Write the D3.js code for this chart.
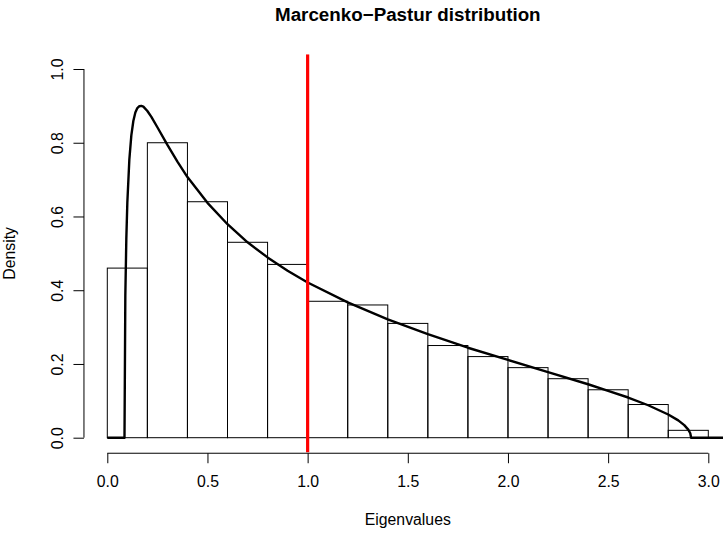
<!DOCTYPE html>
<html>
<head>
<meta charset="utf-8">
<script src="https://cdn.jsdelivr.net/npm/d3@7"></script>
<style>
  html, body { margin: 0; padding: 0; background: #fff; }
  svg { display: block; }
  text { font-family: "Liberation Sans", Arial, Helvetica, sans-serif; fill: #000; }
</style>
</head>
<body>
<svg id="chart" width="723" height="533"></svg>
<script>
// Histogram of eigenvalues: bin edges and densities
const binEdges = [0.0, 0.2, 0.4, 0.6, 0.8, 1.0, 1.2, 1.4, 1.6, 1.8, 2.0, 2.2, 2.4, 2.6, 2.8, 3.0];
const binDensity = [0.46, 0.80, 0.64, 0.53, 0.47, 0.37, 0.36, 0.31, 0.25, 0.22, 0.19, 0.16, 0.13, 0.09, 0.02];

// Theoretical density curve (Marcenko-Pastur), sampled points
const curveX = [0.0, 0.0858, 0.09, 0.095, 0.10, 0.11, 0.12, 0.13, 0.14, 0.15, 0.16, 0.17, 0.18, 0.20, 0.22, 0.25,
                0.30, 0.35, 0.40, 0.50, 0.60, 0.70, 0.80, 0.90, 1.00, 1.20, 1.40, 1.60, 1.80, 2.00, 2.20,
                2.40, 2.50, 2.60, 2.70, 2.80, 2.85, 2.88, 2.90, 2.91, 2.9142, 3.2];
const curveY = [0.0, 0.0, 0.386, 0.540, 0.637, 0.754, 0.820, 0.859, 0.882, 0.894, 0.899, 0.900, 0.898, 0.886, 0.870, 0.842,
                0.794, 0.749, 0.707, 0.637, 0.579, 0.530, 0.489, 0.453, 0.421, 0.367, 0.321, 0.281, 0.244, 0.211, 0.178,
                0.145, 0.127, 0.109, 0.088, 0.063, 0.047, 0.034, 0.022, 0.012, 0.0, 0.0];

// Vertical reference line position
const refLineX = [1.0];

const xTicks = [0.0, 0.5, 1.0, 1.5, 2.0, 2.5, 3.0];
const yTicks = [0.0, 0.2, 0.4, 0.6, 0.8, 1.0];

const titleText = "Marcenko\u2212Pastur distribution";
const xLabel = "Eigenvalues";
const yLabel = "Density";

// Plot region (data range padded by 4% on each side, as in base graphics)
const xDom = [0, 3], yDom = [0, 1];
const px0 = 107.3, px1 = 708.3;   // pixel positions of x = 0 and x = 3
const py0 = 437.7, py1 = 69.0;    // pixel positions of y = 0 and y = 1

const x = d3.scaleLinear().domain(xDom).range([px0, px1]);
const y = d3.scaleLinear().domain(yDom).range([py0, py1]);

const xPad = (xDom[1] - xDom[0]) * 0.04, yPad = (yDom[1] - yDom[0]) * 0.04;
const plotLeft = x(xDom[0] - xPad), plotRight = x(xDom[1] + xPad);
const plotTop = y(yDom[1] + yPad), plotBottom = y(yDom[0] - yPad);

const labelSize = "15.8px", titleSize = "18.8px";

const svg = d3.select("#chart");

svg.append("defs").append("clipPath").attr("id", "plotClip")
  .append("rect")
  .attr("x", plotLeft).attr("y", plotTop)
  .attr("width", plotRight - plotLeft).attr("height", plotBottom - plotTop);

const plot = svg.append("g").attr("clip-path", "url(#plotClip)");

// Histogram bars
plot.append("g").selectAll("rect")
  .data(binDensity)
  .join("rect")
  .attr("x", (d, i) => x(binEdges[i]))
  .attr("y", d => y(d))
  .attr("width", (d, i) => x(binEdges[i + 1]) - x(binEdges[i]))
  .attr("height", d => y(0) - y(d))
  .attr("fill", "none")
  .attr("stroke", "#000")
  .attr("stroke-width", 1);

// Density curve
const line = d3.line().x(d => x(d[0])).y(d => y(d[1]));
plot.append("path")
  .datum(curveX.map((v, i) => [v, curveY[i]]))
  .attr("d", line)
  .attr("fill", "none")
  .attr("stroke", "#000")
  .attr("stroke-width", 2.4)
  .attr("stroke-linejoin", "round");

// Vertical red line
plot.selectAll("line.ref")
  .data(refLineX)
  .join("line")
  .attr("class", "ref")
  .attr("x1", d => x(d)).attr("x2", d => x(d))
  .attr("y1", plotTop).attr("y2", plotBottom)
  .attr("stroke", "#ff0000")
  .attr("stroke-width", 3.2);

// X axis
const xAxis = d3.axisBottom(x).tickValues(xTicks).tickFormat(d3.format(".1f"))
  .tickSize(10).tickSizeOuter(0).tickPadding(13);
const gx = svg.append("g").attr("transform", `translate(0,${plotBottom + 0.8})`).call(xAxis);
gx.select(".domain").attr("d", `M${x(xTicks[0])},0H${x(xTicks[xTicks.length - 1])}`);
gx.selectAll("text").style("font-size", labelSize).attr("font-family", null);

// Y axis
const yAxis = d3.axisLeft(y).tickValues(yTicks).tickFormat(d3.format(".1f"))
  .tickSize(10.5).tickSizeOuter(0);
const gy = svg.append("g").attr("transform", `translate(${plotLeft + 0.7},0)`).call(yAxis);
gy.select(".domain").attr("d", `M0,${y(yTicks[0])}V${y(yTicks[yTicks.length - 1])}`);
gy.selectAll(".tick text")
  .attr("x", null).attr("dy", null)
  .attr("text-anchor", "middle")
  .attr("transform", "translate(-20.8,0) rotate(-90)")
  .style("font-size", labelSize);

svg.selectAll(".domain, .tick line").attr("stroke", "#000").attr("stroke-width", 1);

// Titles
const midX = (plotLeft + plotRight) / 2;
svg.append("text")
  .attr("x", midX).attr("y", 20.5)
  .attr("text-anchor", "middle")
  .style("font-size", titleSize).style("font-weight", "bold")
  .text(titleText);

svg.append("text")
  .attr("x", midX).attr("y", 525)
  .attr("text-anchor", "middle")
  .style("font-size", labelSize)
  .text(xLabel);

svg.append("text")
  .attr("transform", `translate(14.5,${(plotTop + plotBottom) / 2}) rotate(-90)`)
  .attr("text-anchor", "middle")
  .style("font-size", labelSize)
  .text(yLabel);
</script>
</body>
</html>
